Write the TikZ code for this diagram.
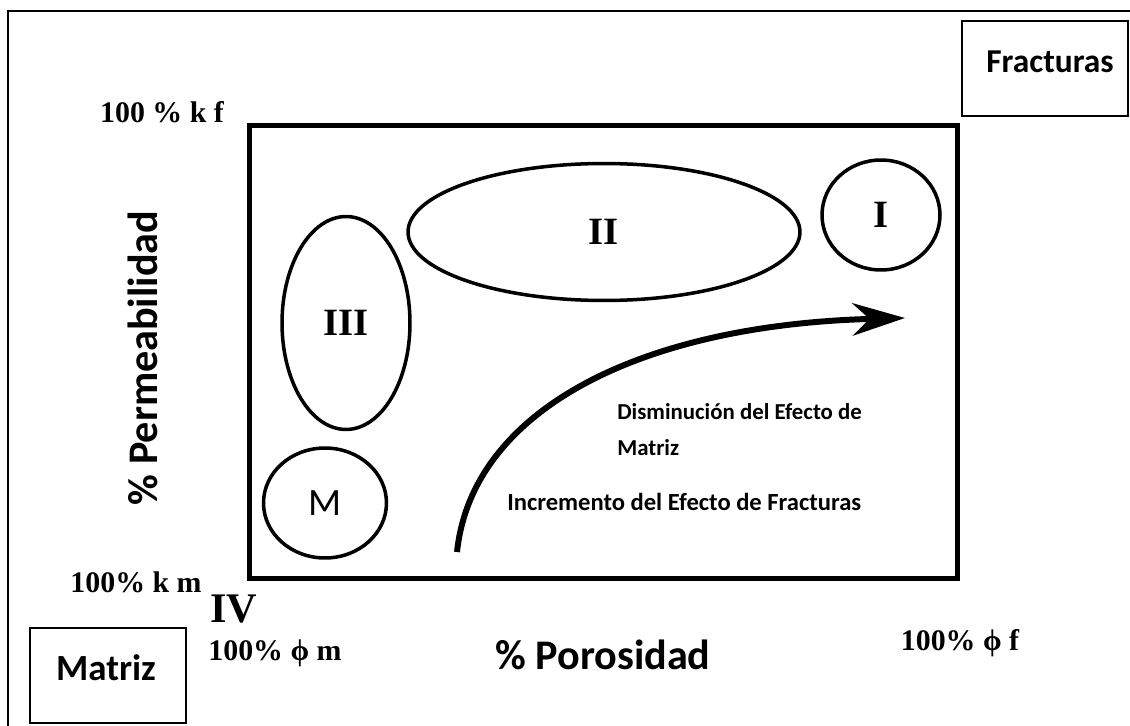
\documentclass[tikz,border=0pt]{standalone}
\usepackage{fontspec}
\setmainfont{Carlito}
\newfontfamily\romfont{Liberation Serif}
\usetikzlibrary{arrows.meta,positioning,shapes.geometric}
\tikzset{
  zone/.style={draw,ellipse,line width=2pt,inner sep=0pt},
  tagbox/.style={draw,line width=1.3pt,inner sep=0pt,minimum width=3.2cm,minimum height=1.9cm},
  tagtext/.style={font=\bfseries\fontsize{19}{22}\selectfont,inner sep=0pt},
  axlab/.style={font=\bfseries\fontsize{24}{28}\selectfont},
  rom/.style={font=\romfont\bfseries\fontsize{17}{20}\selectfont},
  num/.style={font=\romfont\bfseries\fontsize{22}{26}\selectfont},
  note/.style={font=\bfseries\fontsize{13}{16}\selectfont,anchor=west,inner sep=0pt},
  flow/.style={-{Stealth[length=10.5mm,width=6.5mm]},line width=3.4pt}
}

\begin{document}
\begin{tikzpicture}[x=0.02cm,y=-0.02cm]
\useasboundingbox (0,0) rectangle (1130,726);
% outer frame
\draw[line width=1.2pt] (8,726) -- (8,11) -- (1130,11);
% plot field
\node[draw,line width=2.8pt,minimum width=14.18cm,minimum height=9.08cm] (field) at (603.5,352) {};

% zones
\node[zone,num,minimum width=7.84cm,minimum height=2.74cm] (zII) at (604,232) {II};
\node[zone,num,minimum width=2.36cm,minimum height=2.2cm] (zI) at (881,215) {I};
\node[zone,num,minimum width=2.56cm,minimum height=4.26cm] (zIII) at (346,323) {III};
\node[zone,font=\fontsize{22}{26}\selectfont,minimum width=2.46cm,minimum height=2.2cm] (zM) at (325,503) {M};

% trend arrow
\coordinate (a0) at (457,552);
\coordinate (a1) at (905,318);
\draw[flow] (a0) .. controls (472,410) and (640,325) .. (a1);
\node[note] (dism) at (617,412) {Disminución del Efecto de};
\node[note] (dmat) at (617,448) {Matriz};
\node[note,font=\bfseries\fontsize{14}{17}\selectfont] (incr) at (507,502) {Incremento del Efecto de Fracturas};

% corner labels
\node[rom] (kf) at (162,112) {100 \% k f};
\node[rom] (km) at (136,582) {100\% k m};
\node[font=\romfont\bfseries\fontsize{24}{28}\selectfont] (zIV) at (234,609) {IV};
\node[rom] (pm) at (275,653) {100\% ϕ m};
\node[rom] (pf) at (960,643) {100\% ϕ f};

% axes
\node[axlab,rotate=90] (perm) at (143,358) {\% Permeabilidad};
\node[axlab] (poro) at (603,655) {\% Porosidad};

% end members
\node[tagbox,minimum width=3.32cm] (fract) at (1045,68.5) {};
\node[tagtext] (fracttxt) at (1050,62) {Fracturas};
\node[tagbox,minimum width=3.12cm] (matr) at (108,675.5) {};
\node[tagtext,font=\bfseries\fontsize{21}{24}\selectfont] (matrtxt) at (106,668) {Matriz};
\end{tikzpicture}
\end{document}
